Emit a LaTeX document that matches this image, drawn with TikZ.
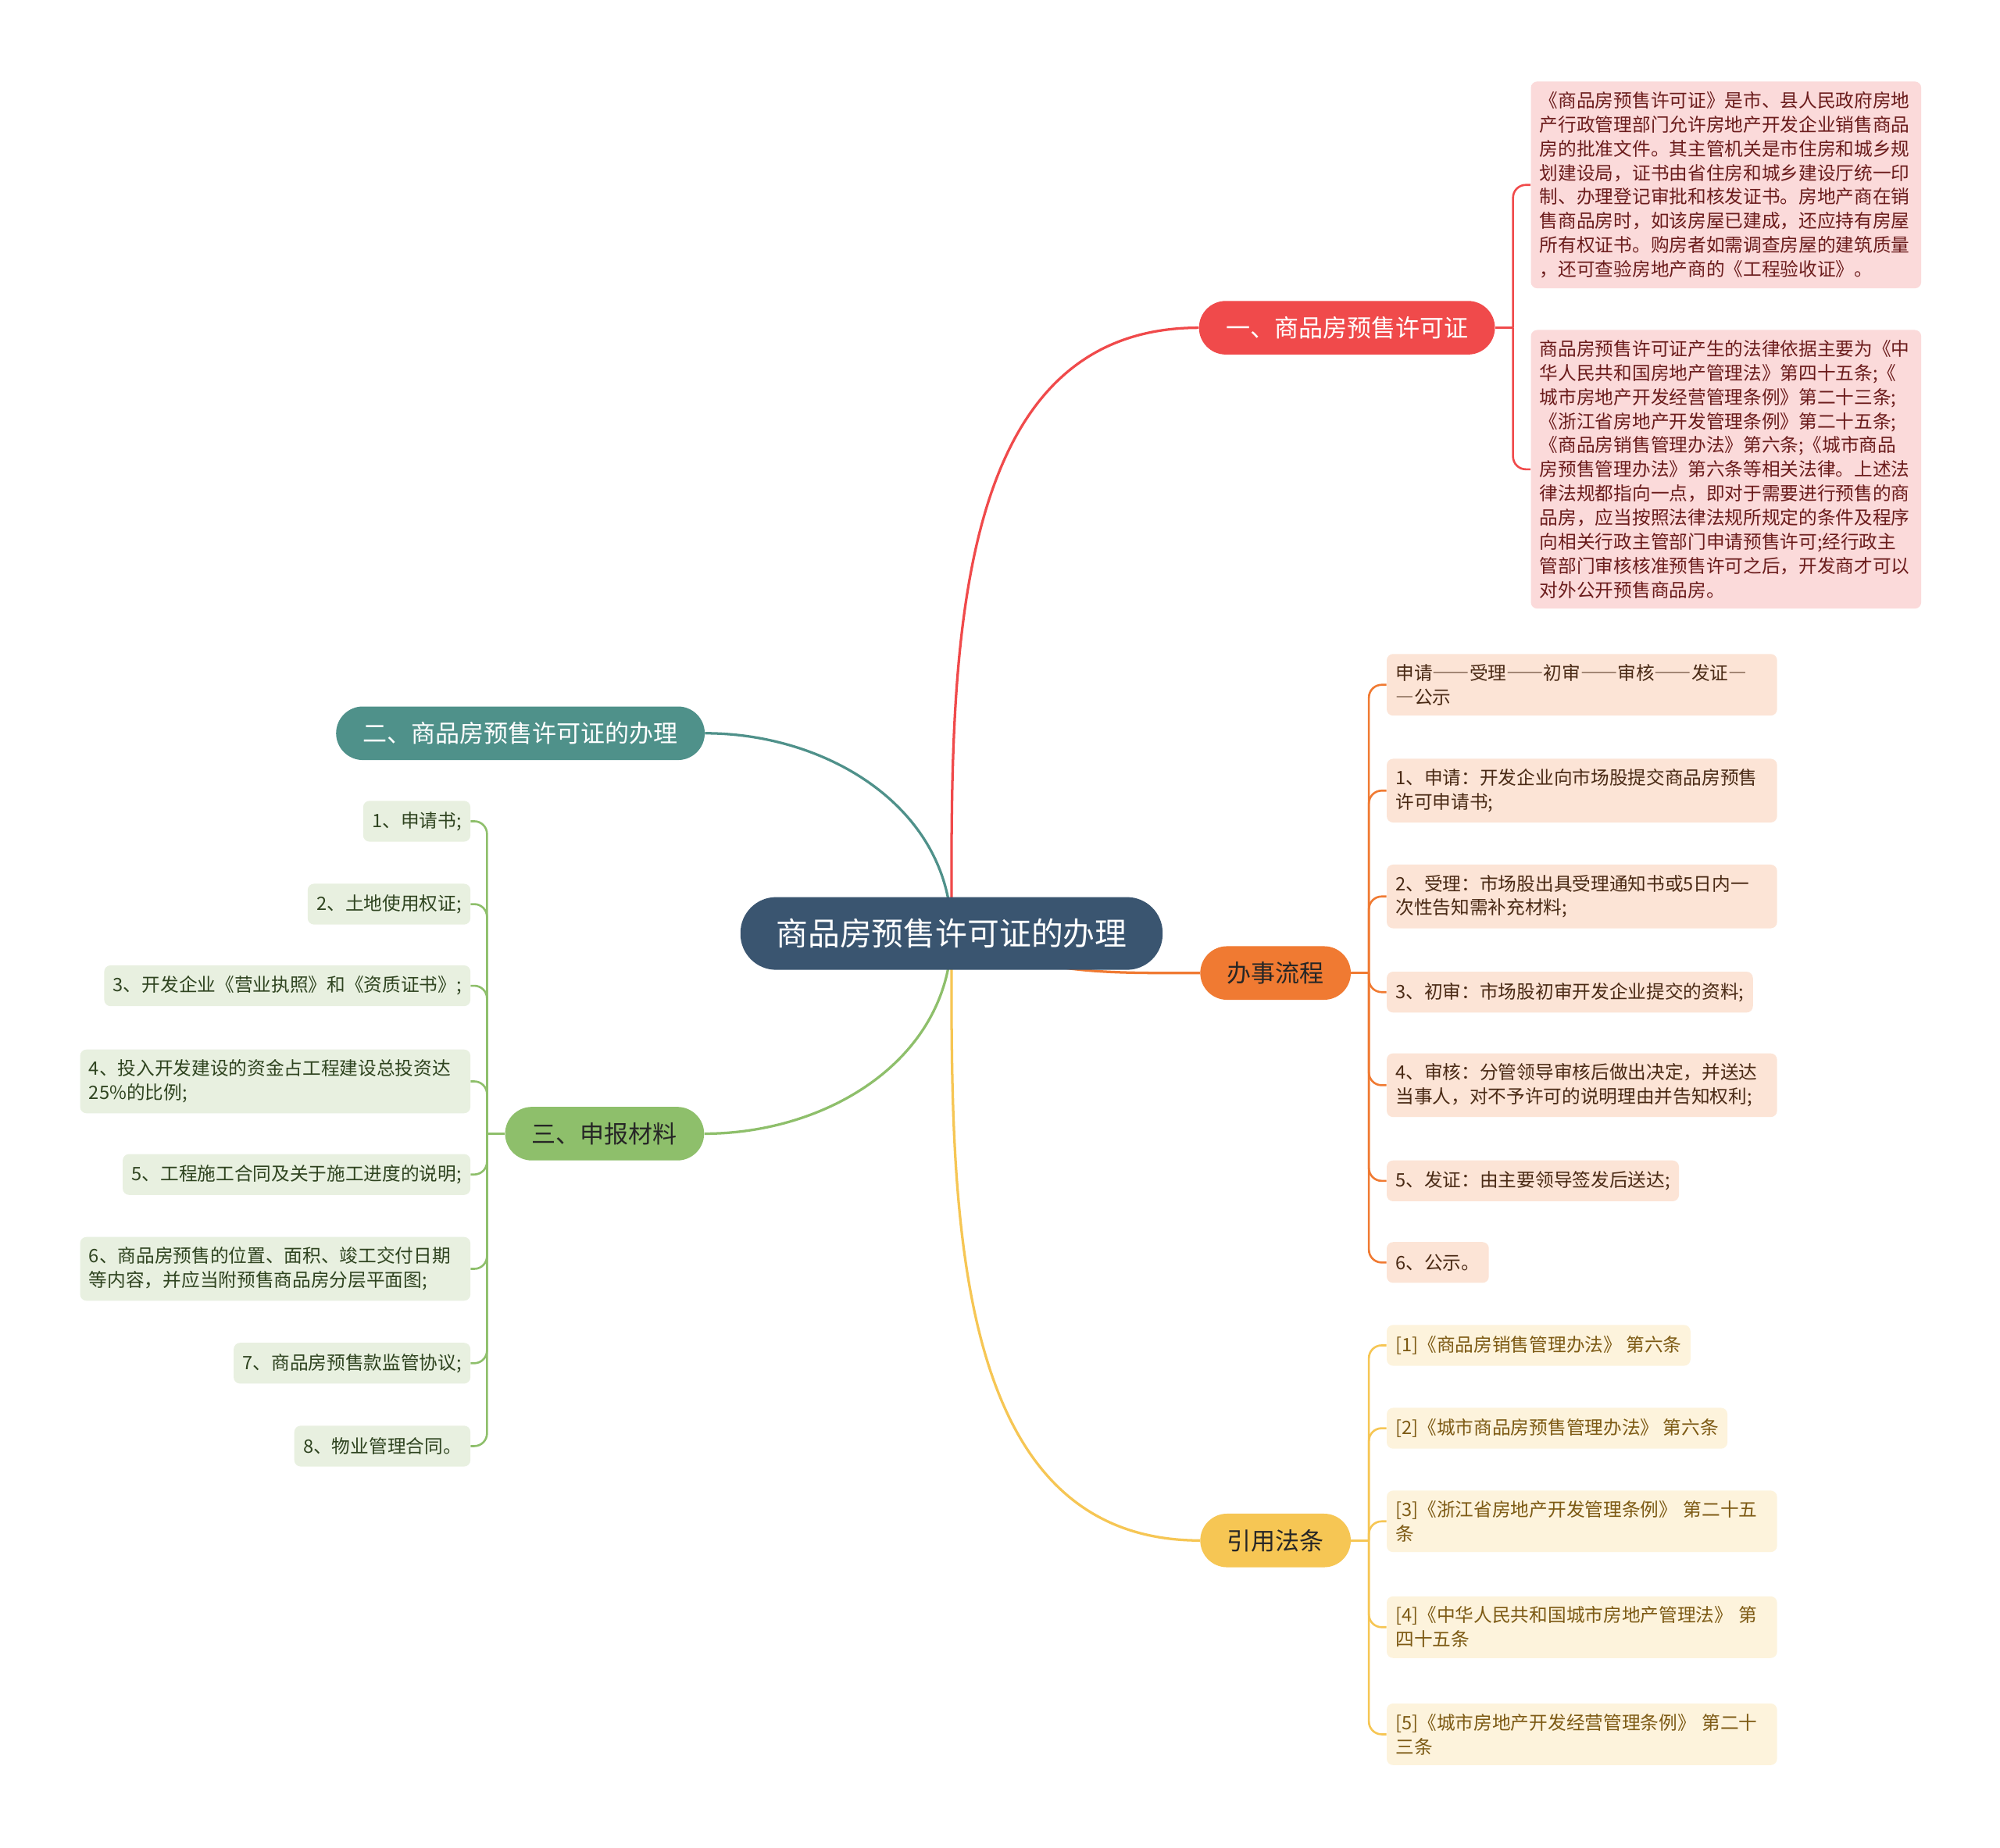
\documentclass[tikz,border=0pt]{standalone}
\usepackage{fontspec}
\setmainfont{Noto Sans CJK SC}
\newfontface\widedash[RawFeature=+fwid]{Noto Sans CJK SC}
\usetikzlibrary{positioning,backgrounds}
\definecolor{rootblue}{HTML}{3A5570}
\definecolor{redmain}{HTML}{F04A4B}
\definecolor{redleaf}{HTML}{FBDADA}
\definecolor{redtext}{HTML}{6B1C1C}
\definecolor{tealmain}{HTML}{4F918A}
\definecolor{greenmain}{HTML}{8EBF6B}
\definecolor{greenleaf}{HTML}{E8F0E0}
\definecolor{greentext}{HTML}{2F4420}
\definecolor{orangemain}{HTML}{F07A32}
\definecolor{orangeleaf}{HTML}{FCE4D6}
\definecolor{orangetext}{HTML}{4A2A15}
\definecolor{goldmain}{HTML}{F6C654}
\definecolor{goldleaf}{HTML}{FDF3DC}
\definecolor{goldtext}{HTML}{7D5A14}
\tikzset{
  rootbox/.style={fill=rootblue, rounded corners=28pt, minimum height=57pt,
                  inner xsep=28pt, text=white, font=\fontsize{25}{30}\selectfont},
  mainbox/.style={rounded corners=21pt, minimum height=42pt, inner xsep=21pt,
                  font=\fontsize{19}{23}\selectfont},
  leafbox/.style={rounded corners=5pt, minimum height=32pt, inner xsep=7pt,
                  inner ysep=8pt, align=left, font=\fontsize{14.5}{18.9}\selectfont},
  wideleaf/.style={leafbox, text width=292pt},
  redbox/.style={leafbox, fill=redleaf, text=redtext, anchor=west},
  flowbox/.style={leafbox, fill=orangeleaf, text=orangetext, anchor=west},
  lawbox/.style={leafbox, fill=goldleaf, text=goldtext, anchor=west},
  docbox/.style={leafbox, fill=greenleaf, text=greentext, anchor=east},
  mainline/.style={line width=2pt},
  leafline/.style={line width=1.6pt, rounded corners=10pt}}
\begin{document}
\begin{tikzpicture}[x=1pt, y=1pt]
  \node[rootbox] (root) at (746,-732) {商品房预售许可证的办理};

  \node[mainbox, fill=redmain, text=white] (lic) at (1056,-257) {一、商品房预售许可证};
  \node[mainbox, fill=tealmain, text=white] (apply) at (408,-575) {二、商品房预售许可证的办理};
  \node[mainbox, fill=greenmain, text=black!85] (docs) at (474,-889) {三、申报材料};
  \node[mainbox, fill=orangemain, text=black!85] (flow) at (1000,-763) {办事流程};
  \node[mainbox, fill=goldmain, text=black!85] (laws) at (1000,-1208) {引用法条};

  \coordinate[right=14pt of lic] (licj);
  \coordinate[right=14pt of flow] (flowj);
  \coordinate[right=14pt of laws] (lawsj);
  \coordinate[left=14pt of docs] (docsj);

  \node[redbox, wideleaf] (lic1) at (1200,-145) {《商品房预售许可证》是市、县人民政府房地\\
    产行政管理部门允许房地产开发企业销售商品\\房的批准文件。其主管机关是市住房和城乡规\\
    划建设局，证书由省住房和城乡建设厅统一印\\制、办理登记审批和核发证书。房地产商在销\\
    售商品房时，如该房屋已建成，还应持有房屋\\所有权证书。购房者如需调查房屋的建筑质量\\
    ，还可查验房地产商的《工程验收证》。};
  \node[redbox, wideleaf] (lic2) at (1200,-368) {商品房预售许可证产生的法律依据主要为《中\\
    华人民共和国房地产管理法》第四十五条;《\\城市房地产开发经营管理条例》第二十三条;\\
    《浙江省房地产开发管理条例》第二十五条;\\《商品房销售管理办法》第六条;《城市商品\\
    房预售管理办法》第六条等相关法律。上述法\\律法规都指向一点，即对于需要进行预售的商\\
    品房，应当按照法律法规所规定的条件及程序\\向相关行政主管部门申请预售许可;经行政主\\
    管部门审核核准预售许可之后，开发商才可以\\对外公开预售商品房。};

  \node[flowbox, wideleaf] (flow0) at (1087,-537) {申请{\widedash ——}受理{\widedash ——}初审{\widedash ——}审核{\widedash ——}发证{\widedash —}\\{\widedash —}公示};
  \node[flowbox, wideleaf] (flow1) at (1087,-620) {1、申请：开发企业向市场股提交商品房预售\\许可申请书;};
  \node[flowbox, wideleaf] (flow2) at (1087,-703) {2、受理：市场股出具受理通知书或5日内一\\次性告知需补充材料;};
  \node[flowbox] (flow3) at (1087,-778) {3、初审：市场股初审开发企业提交的资料;};
  \node[flowbox, wideleaf] (flow4) at (1087,-851) {4、审核：分管领导审核后做出决定，并送达\\当事人，对不予许可的说明理由并告知权利;};
  \node[flowbox] (flow5) at (1087,-926) {5、发证：由主要领导签发后送达;};
  \node[flowbox] (flow6) at (1087,-990) {6、公示。};

  \node[lawbox] (law1) at (1087,-1055) {[1]《商品房销售管理办法》~第六条};
  \node[lawbox] (law2) at (1087,-1120) {[2]《城市商品房预售管理办法》~第六条};
  \node[lawbox, wideleaf] (law3) at (1087,-1193) {[3]《浙江省房地产开发管理条例》~第二十五\\条};
  \node[lawbox, wideleaf] (law4) at (1087,-1276) {[4]《中华人民共和国城市房地产管理法》~第\\四十五条};
  \node[lawbox, wideleaf] (law5) at (1087,-1360) {[5]《城市房地产开发经营管理条例》~第二十\\三条};

  \node[docbox] (doc1) at (369,-644) {1、申请书;};
  \node[docbox] (doc2) at (369,-709) {2、土地使用权证;};
  \node[docbox] (doc3) at (369,-773) {3、开发企业《营业执照》和《资质证书》;};
  \node[docbox, wideleaf] (doc4) at (369,-848) {4、投入开发建设的资金占工程建设总投资达\\25\%的比例;};
  \node[docbox] (doc5) at (369,-921) {5、工程施工合同及关于施工进度的说明;};
  \node[docbox, wideleaf] (doc6) at (369,-995) {6、商品房预售的位置、面积、竣工交付日期\\等内容，并应当附预售商品房分层平面图;};
  \node[docbox] (doc7) at (369,-1069) {7、商品房预售款监管协议;};
  \node[docbox] (doc8) at (369,-1134) {8、物业管理合同。};

  \begin{scope}[on background layer]
    \fill[white] (0,0) rectangle (1568,-1449);
    \draw[mainline, redmain] (root.center) to[out=90, in=180] (lic.west);
    \draw[mainline, tealmain] (root.center) to[out=90, in=0] (apply.east);
    \draw[mainline, greenmain] (root.center) to[out=270, in=0] (docs.east);
    \draw[mainline, orangemain] (root.center) to[out=-25, in=180] (flow.west);
    \draw[mainline, goldmain] (root.center) to[out=270, in=180] (laws.west);

    \draw[leafline, redmain] (lic.east) -- (licj);
    \foreach \n in {lic1,lic2}
      \draw[leafline, redmain] (licj) |- (\n.west);
    \draw[leafline, orangemain] (flow.east) -- (flowj);
    \foreach \n in {flow0,flow1,flow2,flow3,flow4,flow5,flow6}
      \draw[leafline, orangemain] (flowj) |- (\n.west);
    \draw[leafline, goldmain] (laws.east) -- (lawsj);
    \foreach \n in {law1,law2,law3,law4,law5}
      \draw[leafline, goldmain] (lawsj) |- (\n.west);
    \draw[leafline, greenmain] (docs.west) -- (docsj);
    \foreach \n in {doc1,doc2,doc3,doc4,doc5,doc6,doc7,doc8}
      \draw[leafline, greenmain] (docsj) |- (\n.east);
  \end{scope}
\end{tikzpicture}
\end{document}
